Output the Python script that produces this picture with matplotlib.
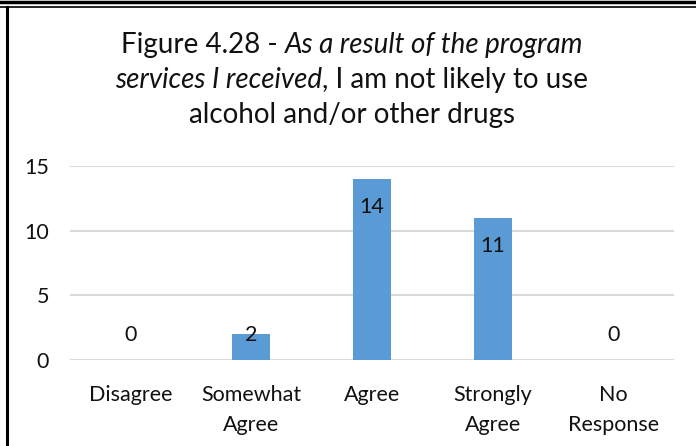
import matplotlib
matplotlib.use("Agg")
import matplotlib.pyplot as plt
from matplotlib.lines import Line2D

# ====================== DATA ======================

categories = ["Disagree", "Somewhat\nAgree", "Agree", "Strongly\nAgree", "No\nResponse"]
counts = [0, 2, 14, 11, 0]
yticks = [0, 5, 10, 15]

title_lines = [
    [("Figure 4.28 - ", "normal"), ("As a result of the program", "italic")],
    [("services I received", "italic"), (", I am not likely to use", "normal")],
    [("alcohol and/or other drugs", "normal")],
]

# ====================== PLOT ======================

plt.rcParams["font.family"] = ["Lato", "DejaVu Sans"]

W, H = 696, 446
fig = plt.figure(figsize=(W / 100, H / 100), dpi=100, facecolor="white")
ax = fig.add_axes([70 / W, 1 - 360 / H, 604 / W, (360 - 166) / H])

x = list(range(len(categories)))
ax.bar(x, counts, width=0.31, color="#5B9BD5", zorder=3)

fs = 15.5
ax.set_xlim(-0.5, len(categories) - 0.5)
ax.set_ylim(0, 15)
ax.set_yticks(yticks)
ax.set_xticks(x)
ax.set_xticklabels(categories, fontsize=fs, color="#111111", linespacing=1.6)
ax.tick_params(axis="y", labelsize=fs, labelcolor="#111111", length=0, pad=15)
ax.tick_params(axis="x", length=0, pad=18)
ax.grid(axis="y", color="#D9D9D9", linewidth=1.5, zorder=0)
for s in ax.spines.values():
    s.set_visible(False)
ax.set_axisbelow(True)

# value labels: inside the top of the bar, clamped near the axis
for xi, v in zip(x, counts):
    ypos = max(v - 2.2, 1.9)
    ax.text(xi, ypos, str(v), ha="center", va="center", fontsize=fs,
            color="#111111", zorder=4)

# title with mixed italic segments, centred per line
renderer = fig.canvas.get_renderer()
cx = 352
for i, line in enumerate(title_lines):
    ypix = 45 + 35 * i
    texts = []
    for seg, style in line:
        t = fig.text(0, 1 - ypix / H, seg, fontsize=20, style=style,
                     va="center", ha="left", color="#111111")
        texts.append(t)
    widths = [t.get_window_extent(renderer).width for t in texts]
    total = sum(widths)
    left = cx - total / 2
    for t, w in zip(texts, widths):
        t.set_x(left / W)
        left += w

# outer frame
fig.add_artist(Line2D([0, 1], [1 - 1.5 / H, 1 - 1.5 / H], color="black", linewidth=2.5))
fig.add_artist(Line2D([0, 1], [1 - 6.5 / H, 1 - 6.5 / H], color="black", linewidth=1.2))
fig.add_artist(Line2D([6.5 / W, 6.5 / W], [0, 1 - 6.5 / H], color="black", linewidth=2.2))

fig.savefig("out.png", dpi=100, facecolor="white")
